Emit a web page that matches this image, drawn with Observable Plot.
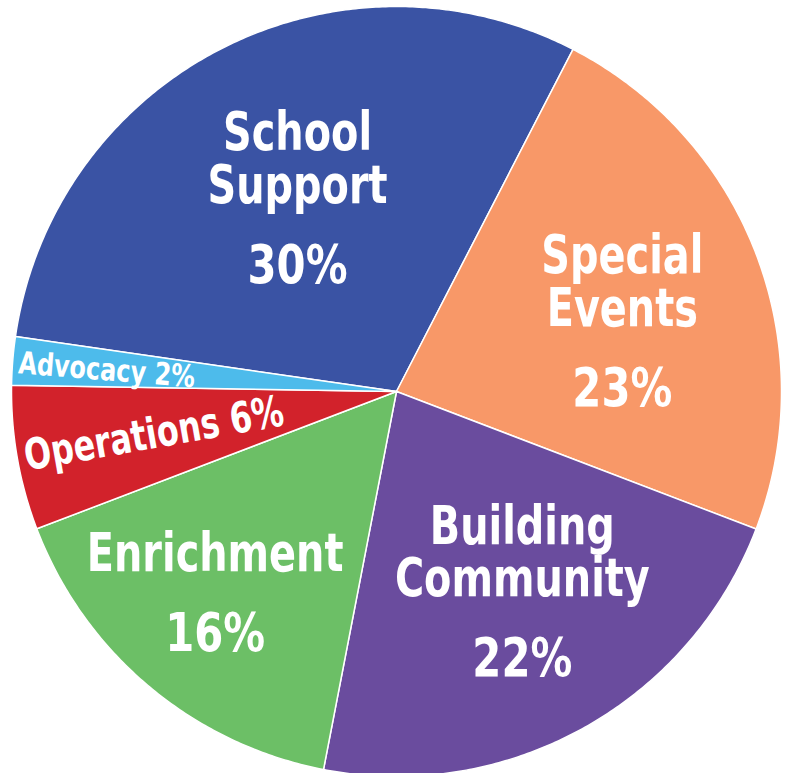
<!DOCTYPE html>
<html><head><meta charset="utf-8">
<script src="https://cdn.jsdelivr.net/npm/d3@7"></script>
<script src="https://cdn.jsdelivr.net/npm/@observablehq/plot@0.6"></script>
<style>body{margin:0;background:#fff;overflow:hidden}</style>
</head><body><div id="chart"></div>
<script>
// Data
const categories = ["School Support", "Special Events", "Building Community", "Enrichment", "Operations", "Advocacy"];
const values = [30, 23, 22, 16, 6, 2];
const nameLabels = ["School\nSupport", "Special\nEvents", "Building\nCommunity", "Enrichment", "Operations", "Advocacy"];
const colors = ["#3a53a4", "#f89868", "#6a4c9e", "#6cbf66", "#d2222b", "#4dbbeb"];

// Layout (not data)
const R_PX = 385;
const startDeg = -81.8;
const labelLayout = {
  "School Support":     {r: 0.55, dx: -2,  dy: 0,   kind: "big"},
  "Special Events":     {r: 0.60, dx: 10,  dy: 17,  kind: "big"},
  "Building Community": {r: 0.63, dx: 8,   dy: -7,  kind: "big"},
  "Enrichment":         {r: 0.68, dx: -13, dy: -21, kind: "big"},
  "Operations":         {r: 0.64, dx: 0,   dy: 0,   kind: "small", size: 43},
  "Advocacy":           {r: 0.755, dx: 0,  dy: 2,   kind: "small", size: 31}
};
const FONT = "'DejaVu Sans Condensed','DejaVu Sans',sans-serif";

const rows = categories.map((c, i) => ({category: c, value: values[i], name: nameLabels[i]}));
const s0 = startDeg * Math.PI / 180;
const arcs = d3.pie().sort(null).value(d => d.value).startAngle(s0).endAngle(s0 + 2 * Math.PI)(rows);

// slice outlines
const points = [];
arcs.forEach(a => {
  const c = a.data.category;
  points.push({category: c, x: 0, y: 0});
  const n = Math.max(8, Math.ceil((a.endAngle - a.startAngle) / (Math.PI / 360)));
  for (let k = 0; k <= n; k++) {
    const t = a.startAngle + (a.endAngle - a.startAngle) * k / n;
    points.push({category: c, x: Math.sin(t), y: Math.cos(t)});
  }
});

// labels
const big = [], small = [];
arcs.forEach(a => {
  const L = labelLayout[a.data.category];
  const mid = (a.startAngle + a.endAngle) / 2;
  const x = L.r * Math.sin(mid) + L.dx / R_PX;
  const y = L.r * Math.cos(mid) - L.dy / R_PX;
  if (L.kind === "big") {
    big.push({x, y, name: a.data.name, pct: a.data.value + "%", ypct: y - 80 / R_PX});
  } else {
    const rot = mid * 180 / Math.PI - 270;
    small.push({x, y, text: a.data.name + " " + a.data.value + "%", rotate: rot, size: L.size});
  }
});

const chart = Plot.plot({
  width: 790,
  height: 773,
  x: {domain: [-1, 1], range: [11, 781], axis: null},
  y: {domain: [-1, 1], range: [391 + R_PX, 391 - R_PX], axis: null},
  color: {domain: categories, range: colors},
  style: {background: "#fff"},
  marks: [
    Plot.line(points, {x: "x", y: "y", z: "category", fill: "category", stroke: "#fff", strokeWidth: 1.5, strokeLinejoin: "round", curve: "linear-closed"}),
    Plot.text(big, {x: "x", y: "y", text: "name", fill: "#fff", fontSize: 54, fontWeight: "bold", fontFamily: FONT, lineAnchor: "bottom", lineHeight: 0.98, textAnchor: "middle"}),
    Plot.text(big, {x: "x", y: "ypct", text: "pct", fill: "#fff", fontSize: 54, fontWeight: "bold", fontFamily: FONT, lineAnchor: "bottom", textAnchor: "middle"}),
    Plot.text(small, {x: "x", y: "y", text: "text", rotate: "rotate", fontSize: d => d.size, fill: "#fff", fontWeight: "bold", fontFamily: FONT, lineAnchor: "middle", textAnchor: "middle"})
  ]
});
// emulate the condensed typeface of the original by narrowing glyphs horizontally
chart.querySelectorAll("text").forEach(t => {
  const tr = t.getAttribute("transform") || "";
  const k = t.textContent.startsWith("Advocacy") ? 0.86 : (/^\d+%$/.test(t.textContent) ? 0.86 : 0.82);
  if (tr) t.setAttribute("transform", tr + ` scale(${k},1)`);
  else {
    const x = +t.getAttribute("x") || 0, y = +t.getAttribute("y") || 0;
    t.setAttribute("transform", `translate(${x},${y}) scale(${k},1)`);
    t.removeAttribute("x"); t.removeAttribute("y");
  }
});
document.getElementById("chart").appendChild(chart);
</script>
</body></html>
